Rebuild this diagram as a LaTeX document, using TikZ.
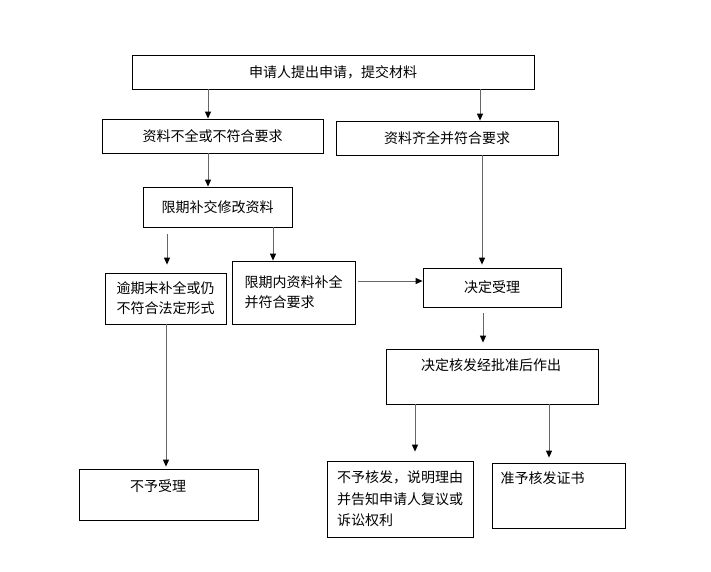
\documentclass[tikz,border=0pt]{standalone}
\usepackage{fontspec}
\setmainfont{Noto Sans CJK SC}
\usetikzlibrary{arrows.meta}
\begin{document}
\begin{tikzpicture}[x=1pt, y=-1pt,
        every node/.style={font=\fontsize{14}{20}\selectfont},
        box/.style={draw, line width=0.8pt, inner sep=0pt, align=center},
        link/.style={draw=black!60, line width=1pt, -{Triangle[width=6pt,length=7pt,color=black]}}]
        \useasboundingbox (0,0) rectangle (711,571);

        \node (apply) [box, minimum width=402, minimum height=34] at (333,72) {申请人提出申请，提交材料};
        \node (lack) [box, minimum width=221, minimum height=34] at (212.5,136) {资料不全或不符合要求};
        \node (full) [box, minimum width=222, minimum height=34] at (447,138) {资料齐全并符合要求};
        \node (fix) [box, minimum width=149, minimum height=40] at (217.5,207) {限期补交修改资料};
        \node (late) [box, minimum width=121, minimum height=51] at (165.5,298.5) {逾期末补全或仍\\不符合法定形式};
        \node (intime) [box, minimum width=123, minimum height=63, align=left] at (293.5,292.5) {限期内资料补全\\并符合要求};
        \node (accept) [box, minimum width=138, minimum height=39] at (492,287.5) {决定受理};
        \node (decide) [box, minimum width=212, minimum height=55] at (492,376.5) {};
        \node (decidetxt) at (491,365) {决定核发经批准后作出};
        \node (reject) [box, minimum width=179, minimum height=51] at (168.5,494.5) {};
        \node (rejecttxt) at (158,486) {不予受理};
        \node (deny) [box, minimum width=146, minimum height=76, align=left,
            font=\fontsize{14}{21.5}\selectfont] at (400,499) {不予核发，说明理由\\并告知申请人复议或\\诉讼权利};
        \node (grant) [box, minimum width=133, minimum height=65] at (558.5,495.5) {};
        \node (granttxt) at (542.5,478) {准予核发证书};

        \draw[link] ([xshift=-4.5]lack.north |- apply.south) -- ([xshift=-4.5]lack.north);
        \draw[link] ([xshift=33]full.north |- apply.south) -- ([xshift=33]full.north);
        \draw[link] ([xshift=-4.5]lack.south) -- ([xshift=-4.5]lack.south |- fix.north);
        \draw[link, shorten <=7, shorten >=8] ([xshift=-50.5]fix.south) -- ([xshift=-50.5]fix.south |- late.north);
        \draw[link] ([xshift=55.5]fix.south) -- ([xshift=55.5]fix.south |- intime.north);
        \draw[link, shorten >=3] ([xshift=35]full.south) -- ([xshift=35]full.south |- accept.north);
        \draw[link, shorten <=3] ([yshift=11.5]intime.east) -- ([yshift=11.5]intime.east -| accept.west);
        \draw[link, shorten <=6, shorten >=6] ([xshift=-9]accept.south) -- ([xshift=-9]accept.south |- decide.north);
        \draw[link, shorten >=2] ([xshift=0.5]late.south) -- ([xshift=0.5]late.south |- reject.north);
        \draw[link, shorten >=9] ([xshift=-77]decide.south) -- ([xshift=-77]decide.south |- deny.north);
        \draw[link, shorten >=5] ([xshift=57]decide.south) -- ([xshift=57]decide.south |- grant.north);

\end{tikzpicture}
\end{document}
